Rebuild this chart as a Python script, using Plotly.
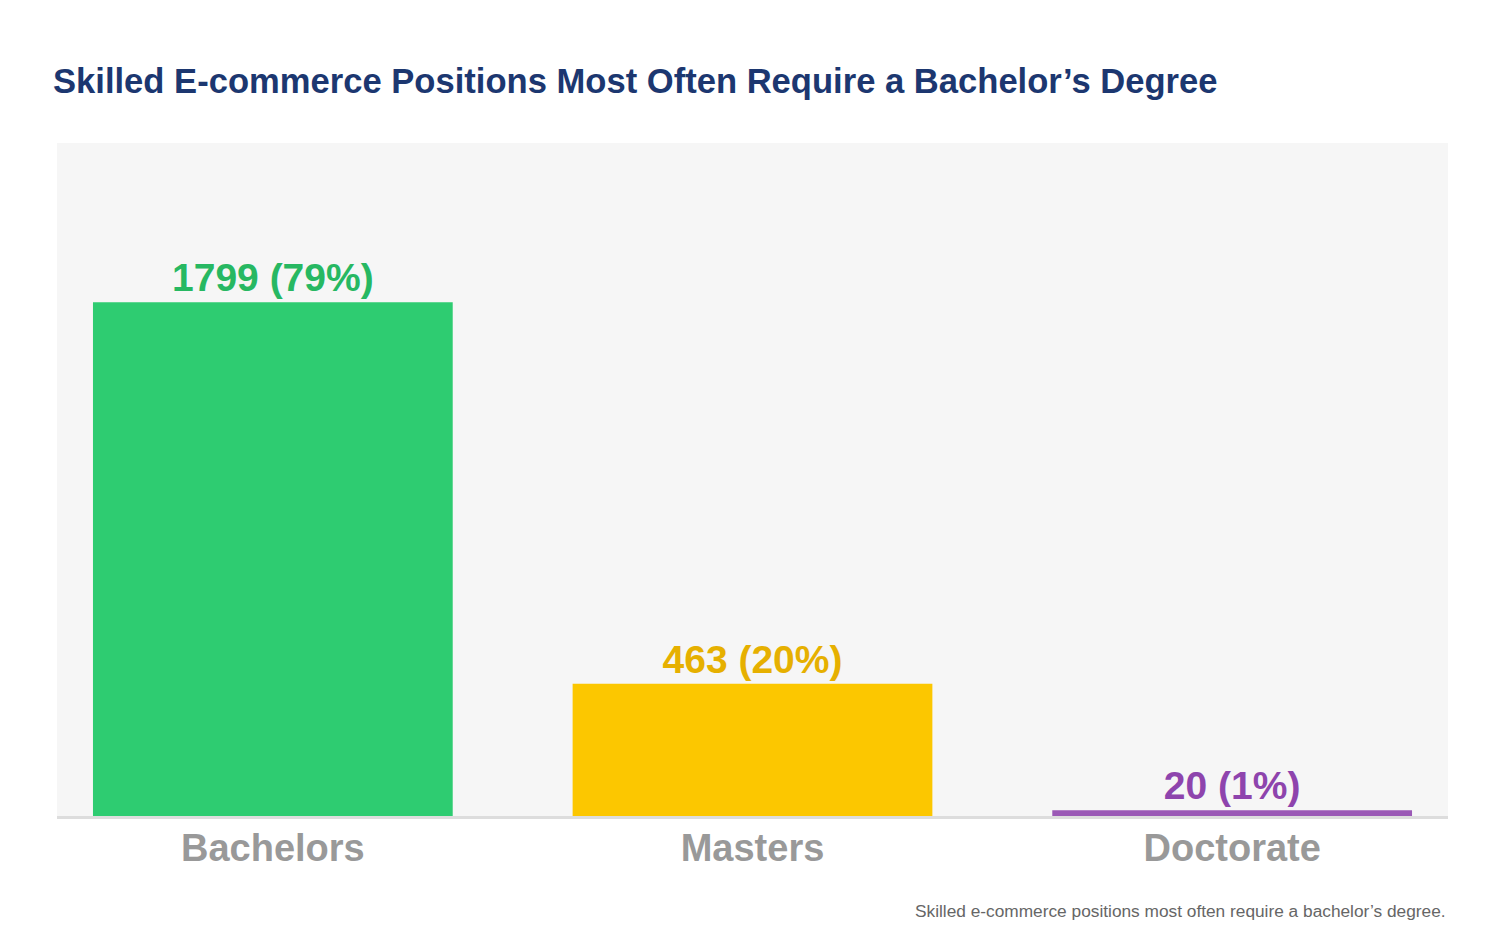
import plotly.graph_objects as go

# Data
degrees = ["Bachelors", "Masters", "Doctorate"]
counts = [1799, 463, 20]
shares = [79, 20, 1]

bar_colors = ["#2ecc71", "#fcc700", "#9b59b6"]
text_colors = ["#27b862", "#e6b000", "#8e44ad"]

labels = [f"{c} ({s}%)" for c, s in zip(counts, shares)]

FONT = "Arial, Liberation Sans, sans-serif"
W, H = 1492, 929  # page adds an 8px body margin

fig = go.Figure(go.Bar(
    x=degrees,
    y=counts,
    width=0.75,
    marker=dict(color=bar_colors, line=dict(width=0)),
    text=labels,
    textposition="outside",
    textfont=dict(family=FONT, size=39, color=text_colors, weight="bold"),
    cliponaxis=False,
    hoverinfo="skip",
))

fig.update_layout(
    width=W,
    height=H,
    paper_bgcolor="white",
    plot_bgcolor="#f6f6f6",
    margin=dict(l=49, r=52, t=135, b=121),
    showlegend=False,
    title=dict(
        text="<b>Skilled E-commerce Positions Most Often Require a Bachelor\u2019s Degree</b>",
        x=45 / W, xanchor="left", xref="container",
        y=1 - 73 / H, yanchor="middle", yref="container",
        font=dict(family=FONT, size=34.6, color="#1c3770"),
    ),
    annotations=[dict(
        text="Skilled e-commerce positions most often require a bachelor\u2019s degree.",
        x=1, xref="paper", xanchor="right",
        y=-95 / 673, yref="paper", yanchor="middle",
        showarrow=False,
        font=dict(family=FONT, size=17.3, color="#666666"),
    )],
)

fig.update_xaxes(
    range=[-0.45, 2.45],
    showline=True, linecolor="#dddddd", linewidth=3,
    showgrid=False,
    ticks="",
    ticklabelstandoff=-4,
    tickfont=dict(family=FONT, size=38, color="#999999", weight="bold"),
)
fig.update_yaxes(
    range=[0, 2357],
    showgrid=False, zeroline=False, showticklabels=False, showline=False,
)

fig.write_html("out.html")
